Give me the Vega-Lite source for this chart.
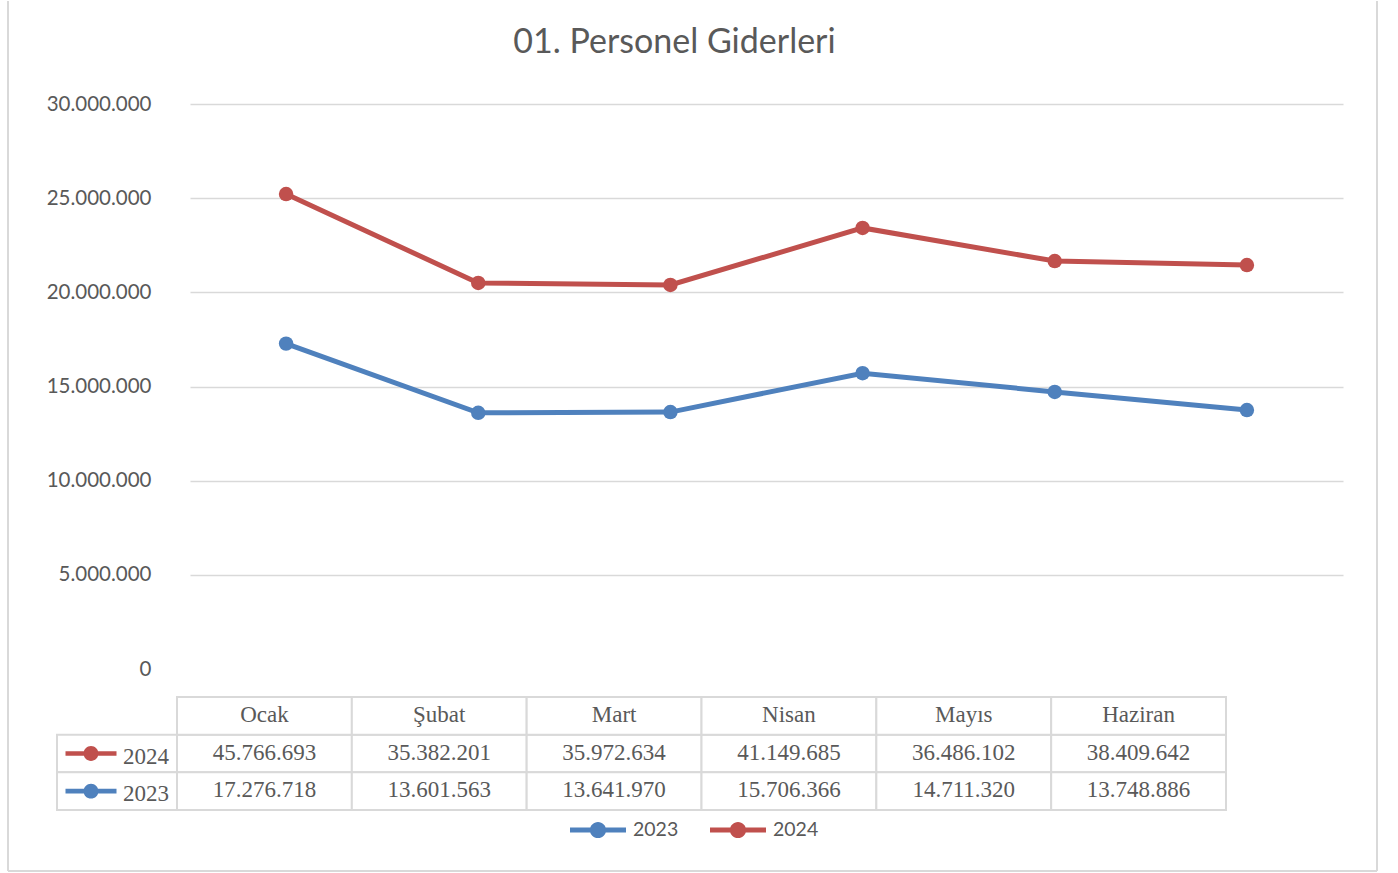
{
  "$schema": "https://vega.github.io/schema/vega-lite/v6.json",
  "width": 1153,
  "height": 565,
  "padding": {"left": 7, "top": 0, "right": 0, "bottom": 0},
  "background": "white",
  "config": {
    "locale": {"number": {"decimal": ",", "thousands": ".", "grouping": [3], "currency": ["", " TL"]}},
    "view": {"stroke": null},
    "font": "Lato"
  },
  "title": {
    "text": "01. Personel Giderleri",
    "font": "Lato",
    "fontSize": 34,
    "fontWeight": "normal",
    "color": "#595959",
    "anchor": "middle",
    "frame": "group",
    "dx": -92,
    "offset": -60
  },
  "datasets": {
    "main": [
      {"month": "Ocak", "year": "2024", "value": 25220000, "tableValue": 45766693},
      {"month": "Şubat", "year": "2024", "value": 20500000, "tableValue": 35382201},
      {"month": "Mart", "year": "2024", "value": 20390000, "tableValue": 35972634},
      {"month": "Nisan", "year": "2024", "value": 23420000, "tableValue": 41149685},
      {"month": "Mayıs", "year": "2024", "value": 21660000, "tableValue": 36486102},
      {"month": "Haziran", "year": "2024", "value": 21450000, "tableValue": 38409642},
      {"month": "Ocak", "year": "2023", "value": 17276718, "tableValue": 17276718},
      {"month": "Şubat", "year": "2023", "value": 13601563, "tableValue": 13601563},
      {"month": "Mart", "year": "2023", "value": 13641970, "tableValue": 13641970},
      {"month": "Nisan", "year": "2023", "value": 15706366, "tableValue": 15706366},
      {"month": "Mayıs", "year": "2023", "value": 14711320, "tableValue": 14711320},
      {"month": "Haziran", "year": "2023", "value": 13748886, "tableValue": 13748886}
    ]
  },
  "data": {"name": "main"},
  "layer": [
    {
      "encoding": {
        "x": {"field": "month", "type": "nominal", "sort": ["Ocak", "Şubat", "Mart", "Nisan", "Mayıs", "Haziran"], "scale": {"domain": ["Ocak", "Şubat", "Mart", "Nisan", "Mayıs", "Haziran"]}, "axis": null},
        "y": {
          "field": "value", "type": "quantitative",
          "scale": {"domain": [0, 30000000], "nice": false},
          "axis": {
            "values": [0, 5000000, 10000000, 15000000, 20000000, 25000000, 30000000],
            "format": ",d", "title": null, "domain": false, "ticks": false, "grid": true,
            "labelFont": "Lato", "labelFontSize": 20.5, "labelColor": "#595959", "labelPadding": 39,
            "gridColor": "#D9D9D9", "gridWidth": 1.5,
            "gridOpacity": {"condition": {"test": "datum.value === 0", "value": 0}, "value": 1}
          }
        }
      },
      "layer": [
        {
          "mark": {"type": "line", "strokeWidth": 5},
          "encoding": {
            "stroke": {"field": "year", "type": "nominal", "scale": {"domain": ["2023", "2024"], "range": ["#4F81BD", "#C0504D"]}, "legend": null}
          }
        },
        {
          "mark": {"type": "point", "filled": true, "opacity": 1, "size": 210},
          "encoding": {
            "fill": {"field": "year", "type": "nominal", "scale": {"domain": ["2023", "2024"], "range": ["#4F81BD", "#C0504D"]}, "legend": null}
          }
        }
      ]
    },
    {
      "encoding": {
        "x": {"field": "month", "type": "nominal", "scale": {"domain": ["Ocak", "Şubat", "Mart", "Nisan", "Mayıs", "Haziran"], "range": [-13, 1036], "paddingInner": 0, "paddingOuter": 0}, "axis": null}
      },
      "layer": [
        {
          "mark": {"type": "rect", "fill": "white", "stroke": "#D9D9D9", "strokeWidth": 2},
          "encoding": {
            "y": {"field": "year", "type": "nominal", "scale": {"domain": ["hdr", "2024", "2023"], "range": [593, 706], "paddingInner": 0, "paddingOuter": 0}, "axis": null}
          }
        },
        {
          "transform": [{"filter": "datum.year == '2024'"}],
          "mark": {"type": "rect", "fill": "white", "stroke": "#D9D9D9", "strokeWidth": 2},
          "encoding": {
            "y": {"datum": "hdr", "type": "nominal", "scale": {"domain": ["hdr", "2024", "2023"], "range": [593, 706], "paddingInner": 0, "paddingOuter": 0}, "axis": null}
          }
        },
        {
          "mark": {"type": "text", "font": "Liberation Serif", "fontSize": 23, "color": "#595959", "baseline": "middle", "dy": -1},
          "encoding": {
            "y": {"field": "year", "type": "nominal", "scale": {"domain": ["hdr", "2024", "2023"], "range": [593, 706], "paddingInner": 0, "paddingOuter": 0}, "axis": null},
            "text": {"field": "tableValue", "type": "quantitative", "format": ",d"}
          }
        },
        {
          "transform": [{"filter": "datum.year == '2024'"}],
          "mark": {"type": "text", "font": "Liberation Serif", "fontSize": 23, "color": "#595959", "baseline": "middle", "dy": -1},
          "encoding": {
            "y": {"datum": "hdr", "type": "nominal", "scale": {"domain": ["hdr", "2024", "2023"], "range": [593, 706], "paddingInner": 0, "paddingOuter": 0}, "axis": null},
            "text": {"field": "month", "type": "nominal"}
          }
        }
      ]
    },
    {
      "transform": [{"filter": "datum.month == 'Ocak'"}],
      "mark": {"type": "rect", "fill": "white", "stroke": "#D9D9D9", "strokeWidth": 2},
      "encoding": {
        "x": {"datum": "h", "type": "nominal", "scale": {"domain": ["h"], "range": [-133, -13], "paddingInner": 0, "paddingOuter": 0}, "axis": null},
        "y": {"field": "year", "type": "nominal", "scale": {"domain": ["hdr", "2024", "2023"], "range": [593, 706], "paddingInner": 0, "paddingOuter": 0}, "axis": null}
      }
    },
    {
      "transform": [{"filter": "datum.month == 'Ocak'"}],
      "encoding": {
        "y": {"field": "year", "type": "nominal", "scale": {"domain": ["hdr", "2024", "2023"], "range": [593, 706], "paddingInner": 0, "paddingOuter": 0}, "axis": null}
      },
      "layer": [
        {
          "mark": {"type": "point", "filled": true, "opacity": 1, "size": 2601, "strokeWidth": 0, "shape": "M-1,-0.09L1,-0.09L1,0.09L-1,0.09Z M0.29,0A0.29,0.29,0,1,1,-0.29,0A0.29,0.29,0,1,1,0.29,0Z"},
          "encoding": {
            "x": {"datum": "sym", "type": "nominal", "scale": {"domain": ["sym", "lbl"], "range": [-126.5, -16.5], "paddingInner": 0, "paddingOuter": 0}, "axis": null},
            "fill": {"field": "year", "type": "nominal", "scale": {"domain": ["2023", "2024"], "range": ["#4F81BD", "#C0504D"]}, "legend": null}
          }
        },
        {
          "mark": {"type": "text", "font": "Liberation Serif", "fontSize": 23, "color": "#595959", "baseline": "middle", "dy": 3},
          "encoding": {
            "x": {"datum": "lbl", "type": "nominal", "scale": {"domain": ["sym", "lbl"], "range": [-126.5, -16.5], "paddingInner": 0, "paddingOuter": 0}, "axis": null},
            "text": {"field": "year", "type": "nominal"}
          }
        }
      ]
    },
    {
      "transform": [{"filter": "datum.month == 'Ocak'"}],
      "encoding": {
        "x": {"field": "year", "type": "nominal", "scale": {"domain": ["2023", "2024"], "range": [338, 618], "paddingInner": 0, "paddingOuter": 0}, "axis": null},
        "y": {"datum": "leg", "type": "nominal", "scale": {"domain": ["leg"], "range": [707, 745], "paddingInner": 0, "paddingOuter": 0}, "axis": null}
      },
      "layer": [
        {
          "mark": {"type": "point", "filled": true, "opacity": 1, "size": 3136, "strokeWidth": 0, "shape": "M-1,-0.09L1,-0.09L1,0.09L-1,0.09Z M0.29,0A0.29,0.29,0,1,1,-0.29,0A0.29,0.29,0,1,1,0.29,0Z"},
          "encoding": {
            "fill": {"field": "year", "type": "nominal", "scale": {"domain": ["2023", "2024"], "range": ["#4F81BD", "#C0504D"]}, "legend": null}
          }
        },
        {
          "mark": {"type": "text", "font": "Lato", "fontSize": 19.5, "color": "#595959", "baseline": "middle", "align": "left", "dx": 35},
          "encoding": {
            "text": {"field": "year", "type": "nominal"}
          }
        }
      ]
    },
    {
      "data": {"values": [{}]},
      "encoding": {
        "x": {"datum": 0, "type": "quantitative", "scale": {"domain": [0, 1], "range": [-182, 1187], "nice": false, "zero": false}, "axis": null},
        "y": {"datum": 0, "type": "quantitative", "scale": {"domain": [0, 1], "range": [-103, 767], "nice": false, "zero": false}, "axis": null}
      },
      "layer": [
        {"mark": {"type": "rule", "color": "#D9D9D9", "strokeWidth": 2}, "encoding": {"y2": {"datum": 1}}},
        {"mark": {"type": "rule", "color": "#D9D9D9", "strokeWidth": 2}, "encoding": {"x": {"datum": 1, "type": "quantitative"}, "y2": {"datum": 1}}},
        {"mark": {"type": "rule", "color": "#D9D9D9", "strokeWidth": 2}, "encoding": {"y": {"datum": 1, "type": "quantitative"}, "x2": {"datum": 1}}}
      ]
    }
  ],
  "resolve": {"scale": {"x": "independent", "y": "independent", "fill": "independent", "stroke": "independent"}}
}
